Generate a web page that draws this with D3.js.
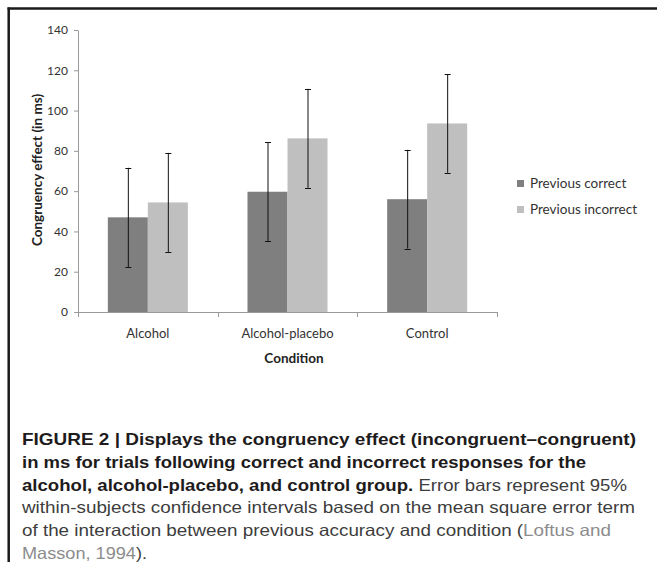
<!DOCTYPE html>
<html>
<head>
<meta charset="utf-8">
<script src="https://cdn.jsdelivr.net/npm/d3@7"></script>
<style>
  body { margin: 0; background: #fff; }
  svg { display: block; }
</style>
</head>
<body>
<svg width="657" height="562"></svg>
<script>
// data
var conditions = ["Alcohol", "Alcohol-placebo", "Control"];
var seriesNames = ["Previous correct", "Previous incorrect"];
var seriesColors = ["#7f7f7f", "#bfbfbf"];
var prevCorrect = [47, 59.7, 56];
var prevIncorrect = [54.4, 86.2, 93.6];
var errCorrect = [24.6, 24.6, 24.5];
var errIncorrect = [24.6, 24.6, 24.5];
var yTicks = [0, 20, 40, 60, 80, 100, 120, 140];

var captionLines = [
  [{t: "FIGURE 2 | Displays the congruency effect (incongruent\u2013congruent)", s: "b"}],
  [{t: "in ms for trials following correct and incorrect responses for the", s: "b"}],
  [{t: "alcohol, alcohol-placebo, and control group.", s: "b"}, {t: " Error bars represent 95%", s: "r"}],
  [{t: "within-subjects confidence intervals based on the mean square error term", s: "r"}],
  [{t: "of the interaction between previous accuracy and condition (", s: "r"}, {t: "Loftus and", s: "l"}],
  [{t: "Masson, 1994", s: "l"}, {t: ").", s: "r"}]
];
var captionEnds = [636, 586, 627, 635, 611, 147];

var svg = d3.select("svg"),
    margin = {top: 30, left: 78, right: 160, bottom: 250},
    width = 497 - margin.left,
    height = 312 - margin.top;

var font = "Lato, 'Open Sans', sans-serif";

// frame
svg.append("line").attr("x1", 7.5).attr("x2", 657).attr("y1", 8.5).attr("y2", 8.5)
   .attr("stroke", "#1a1a1a").attr("stroke-width", 2.5);
svg.append("line").attr("x1", 8.7).attr("x2", 8.7).attr("y1", 7.5).attr("y2", 562)
   .attr("stroke", "#1a1a1a").attr("stroke-width", 2.5);

var g = svg.append("g").attr("transform", "translate(" + margin.left + "," + margin.top + ")");

var x0 = d3.scaleBand().domain(conditions).range([0, width]);
var x1 = d3.scaleBand().domain(seriesNames).range([0, 80]);
var y = d3.scaleLinear().domain([0, 140]).range([height, 0]);

// y axis
var yAxis = g.append("g").call(d3.axisLeft(y).tickValues(yTicks).tickSize(4).tickPadding(6));
yAxis.select(".domain").attr("stroke", "#9a9a9a").attr("d", "M0.5," + height + "V0.5");
yAxis.selectAll(".tick line").attr("stroke", "#9a9a9a");
yAxis.selectAll("text").attr("fill", "#333").style("font-family", font).style("font-size", "12px");

// x axis
var xAxis = g.append("g").attr("transform", "translate(0," + height + ")")
  .call(d3.axisBottom(x0).tickSize(0).tickPadding(17));
xAxis.select(".domain").attr("stroke", "#9a9a9a").attr("d", "M0," + 0.5 + "H" + width);
xAxis.selectAll("text").attr("fill", "#333").style("font-family", font).style("font-size", "13px");
xAxis.selectAll(".sep").data(d3.range(conditions.length + 1)).enter().append("line")
  .attr("class", "sep")
  .attr("x1", function(i) { return Math.round(i * x0.step()) + 0.5; })
  .attr("x2", function(i) { return Math.round(i * x0.step()) + 0.5; })
  .attr("y1", 0).attr("y2", 5).attr("stroke", "#9a9a9a");

// bars
var rows = conditions.map(function(c, i) {
  return [
    {c: c, s: seriesNames[0], v: prevCorrect[i], e: errCorrect[i], col: seriesColors[0]},
    {c: c, s: seriesNames[1], v: prevIncorrect[i], e: errIncorrect[i], col: seriesColors[1]}
  ];
});

var groups = g.selectAll(".grp").data(rows).enter().append("g")
  .attr("transform", function(d) { return "translate(" + (x0(d[0].c) + (x0.bandwidth() - 80) / 2) + ",0)"; });

groups.selectAll("rect").data(function(d) { return d; }).enter().append("rect")
  .attr("x", function(d) { return x1(d.s); })
  .attr("width", x1.bandwidth())
  .attr("y", function(d) { return y(d.v); })
  .attr("height", function(d) { return height - y(d.v); })
  .attr("fill", function(d) { return d.col; });

// error bars
var eb = groups.selectAll(".eb").data(function(d) { return d; }).enter().append("g")
  .attr("stroke", "#111").attr("stroke-width", 1);
eb.append("line")
  .attr("x1", function(d) { return Math.round(x1(d.s) + x1.bandwidth() / 2) + 0.5; })
  .attr("x2", function(d) { return Math.round(x1(d.s) + x1.bandwidth() / 2) + 0.5; })
  .attr("y1", function(d) { return y(d.v + d.e); })
  .attr("y2", function(d) { return y(d.v - d.e); });
[1, -1].forEach(function(sign) {
  eb.append("line")
    .attr("x1", function(d) { return Math.round(x1(d.s) + x1.bandwidth() / 2) - 2.5; })
    .attr("x2", function(d) { return Math.round(x1(d.s) + x1.bandwidth() / 2) + 3.5; })
    .attr("y1", function(d) { return Math.round(y(d.v + sign * d.e)) + 0.5; })
    .attr("y2", function(d) { return Math.round(y(d.v + sign * d.e)) + 0.5; });
});

// axis titles
g.append("text")
  .attr("transform", "translate(-36," + (height / 2 - 1) + ") rotate(-90)")
  .attr("text-anchor", "middle")
  .attr("fill", "#222")
  .style("font-family", font).style("font-weight", "bold").style("font-size", "13.5px")
  .text("Congruency effect (in ms)");
g.append("text")
  .attr("x", 294 - margin.left).attr("y", 363 - margin.top)
  .attr("text-anchor", "middle")
  .attr("fill", "#222")
  .style("font-family", font).style("font-weight", "bold").style("font-size", "13.5px")
  .text("Condition");

// legend
var legend = svg.append("g").attr("transform", "translate(517,180)");
seriesNames.forEach(function(s, i) {
  legend.append("rect").attr("x", 0).attr("y", i * 26).attr("width", 7).attr("height", 7)
    .attr("fill", seriesColors[i]);
  legend.append("text").attr("x", 13).attr("y", i * 26 + 8)
    .attr("fill", "#333")
    .style("font-family", font).style("font-size", "13.5px")
    .text(s);
});

// caption
var styles = {
  b: {w: "bold", c: "#1e1b1c"},
  r: {w: "normal", c: "#3d3d3d"},
  l: {w: "normal", c: "#8c8c8c"}
};
captionLines.forEach(function(line, i) {
  var t = svg.append("text")
    .attr("x", 22).attr("y", 445 + i * 22.8)
    .attr("textLength", captionEnds[i] - 22)
    .attr("lengthAdjust", "spacingAndGlyphs")
    .style("font-family", "'Liberation Sans Narrow', 'Liberation Sans', Arial, sans-serif")
    .style("font-size", "16.5px")
    .style("white-space", "pre");
  line.forEach(function(p) {
    t.append("tspan").attr("font-weight", styles[p.s].w).attr("fill", styles[p.s].c).text(p.t);
  });
});
</script>
</body>
</html>
